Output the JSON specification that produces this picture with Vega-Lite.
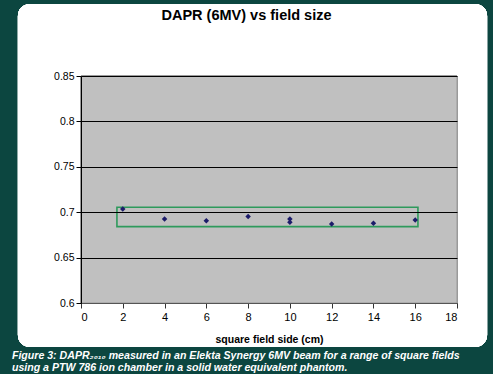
{
  "$schema": "https://vega.github.io/schema/vega-lite/v6.json",
  "background": "#0c4640",
  "padding": {"left": 11, "top": 3, "right": 5, "bottom": 0},
  "title": {
    "text": ["Figure 3:  DAPR₂₀₁₀ measured in an Elekta Synergy 6MV beam for a range of square fields", "using a PTW 786 ion chamber in a solid water equivalent phantom."],
    "orient": "bottom",
    "anchor": "start",
    "color": "#ffffff",
    "font": "Liberation Sans",
    "fontSize": 10.6,
    "fontStyle": "italic",
    "fontWeight": "bold",
    "lineHeight": 11.5,
    "offset": 4,
    "dx": -6
  },
  "vconcat": [
    {
      "width": 376,
      "height": 227,
      "title": {
        "text": "DAPR (6MV) vs field size",
        "anchor": "middle",
        "frame": "bounds",
        "font": "Liberation Sans",
        "fontSize": 14.5,
        "fontWeight": "bold",
        "color": "#000000",
        "baseline": "alphabetic",
        "offset": -31,
        "dx": -6,
        "zindex": 2
      },
      "data": {"values": [
        {"side": 2, "dapr": 0.7036},
        {"side": 4, "dapr": 0.6926},
        {"side": 6, "dapr": 0.6905},
        {"side": 8, "dapr": 0.6952},
        {"side": 10, "dapr": 0.6925},
        {"side": 10, "dapr": 0.6890},
        {"side": 12, "dapr": 0.6870},
        {"side": 14, "dapr": 0.6878},
        {"side": 16, "dapr": 0.6915}
      ]},
      "layer": [
        {
          "mark": {"type": "rect", "fill": "#ffffff", "cornerRadius": 12},
          "encoding": {
            "x": {"datum": -3.02, "type": "quantitative"},
            "x2": {"datum": 19.44},
            "y": {"datum": 0.9293, "type": "quantitative"},
            "y2": {"datum": 0.5515}
          }
        },
        {
          "mark": {"type": "rect", "fill": "#c0c0c0", "stroke": "#9a9a9a", "strokeWidth": 1},
          "encoding": {
            "x": {"datum": 0, "type": "quantitative"},
            "x2": {"datum": 18},
            "y": {"datum": 0.6, "type": "quantitative"},
            "y2": {"datum": 0.85}
          }
        },
        {
          "data": {"values": [{"x1": 1.72, "x2": 16.13, "y1": 0.6841, "y2": 0.7055}]},
          "mark": {"type": "rect", "fill": null, "stroke": "#2e9a5c", "strokeWidth": 1.6},
          "encoding": {
            "x": {"field": "x1", "type": "quantitative"},
            "x2": {"field": "x2"},
            "y": {"field": "y1", "type": "quantitative"},
            "y2": {"field": "y2"}
          }
        },
        {
          "mark": {"type": "point", "shape": "diamond", "filled": true, "color": "#1c1c6a", "size": 30, "opacity": 1},
          "encoding": {
            "x": {
              "field": "side", "type": "quantitative",
              "scale": {"domain": [0, 18], "nice": false, "zero": false},
              "axis": {
                "title": "square field side (cm)",
                "values": [0, 2, 4, 6, 8, 10, 12, 14, 16, 18],
                "grid": false,
                "domainColor": "#555555",
                "tickColor": "#333333",
                "tickSize": 5,
                "labelPadding": 3,
                "labelFont": "Liberation Sans",
                "labelFontSize": 11,
                "labelColor": "#000000",
                "titleFont": "Liberation Sans",
                "titleFontSize": 10.5,
                "titleFontWeight": "bold",
                "titleColor": "#000000",
                "titleBaseline": "alphabetic",
                "titleY": 39,
                "zindex": 1
              }
            },
            "y": {
              "field": "dapr", "type": "quantitative",
              "scale": {"domain": [0.6, 0.85], "nice": false, "zero": false},
              "axis": {
                "title": null,
                "values": [0.6, 0.65, 0.7, 0.75, 0.8, 0.85],
                "format": ".2~f",
                "grid": true,
                "gridColor": "#000000",
                "gridOpacity": 1,
                "gridWidth": 1,
                "domainColor": "#000000",
                "tickColor": "#000000",
                "tickSize": 5,
                "labelPadding": 2,
                "labelFont": "Liberation Sans",
                "labelFontSize": 10.5,
                "labelColor": "#000000",
                "zindex": 1
              }
            }
          }
        }
      ]
    }
  ],
  "config": {
    "view": {"stroke": null},
    "concat": {"spacing": 0}
  }
}
